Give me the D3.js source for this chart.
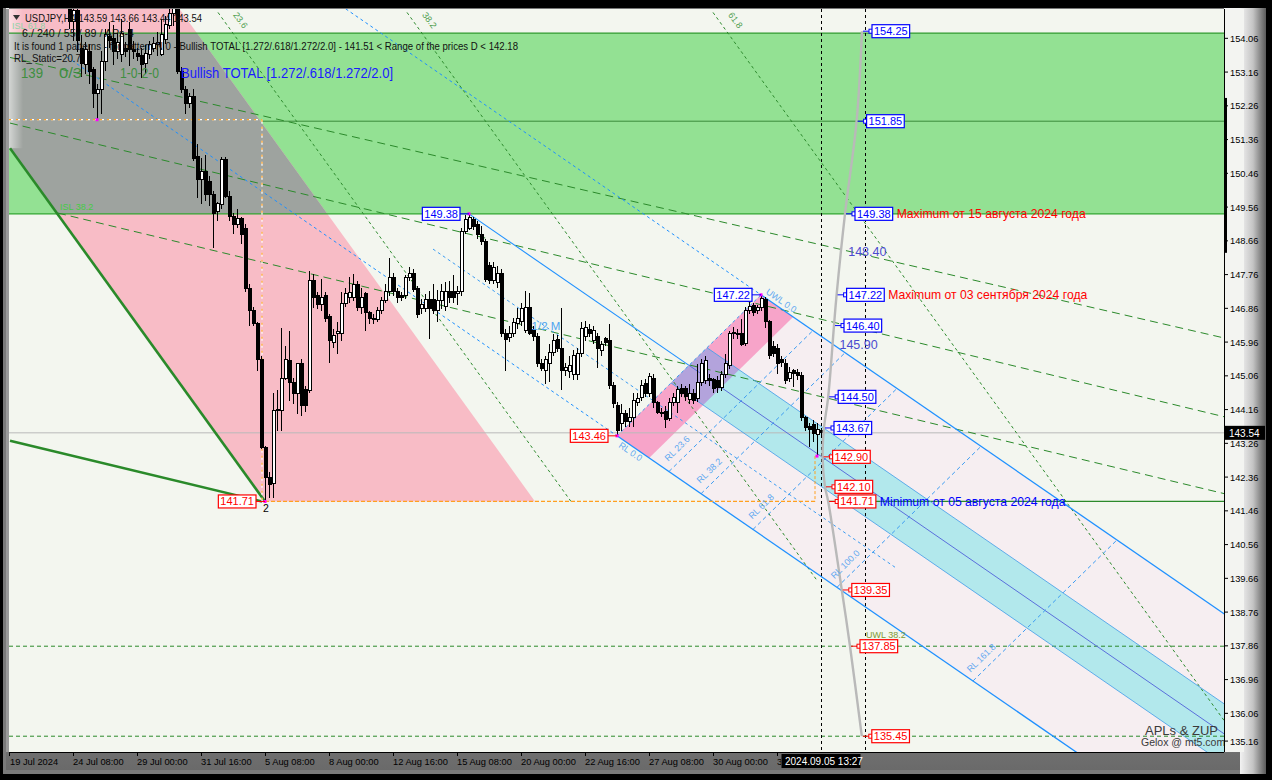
<!DOCTYPE html>
<html>
<head>
<meta charset="utf-8">
<script src="https://cdn.jsdelivr.net/npm/d3@7/dist/d3.min.js"></script>
<style>
  body { margin: 0; background: #000; }
  svg { display: block; }
  text { font-family: "Liberation Sans", Arial, sans-serif; }
</style>
</head>
<body>
<script>
// ---- data ----
const firstBar = 15; // bars 0..14 (19-23 Jul) sit above the visible range
const ohlc = [
  [155.2,155.5,154.3,154.5],[154.5,155.1,154.0,154.8],[154.8,155.0,153.7,154.0],[153.79,154.16,153.04,153.39],
  [153.35,153.95,153.1,153.75],[153.71,153.9,152.83,153.18],[153.23,153.3,152.19,152.59],[152.58,152.85,151.89,152.7],
  [152.7,153.71,152.05,153.44],[153.44,154.32,153.18,154.16],[154.1,154.5,153.8,154.0],[154.05,154.42,153.36,153.71],
  [153.7,154.2,153.5,153.95],[153.63,154.58,153.44,154.19],[153.79,153.95,153.55,153.71],[154.29,154.5,153.31,153.76],
  [153.76,154.0,153.5,153.71],[153.65,153.8,153.45,153.57],[153.6,153.79,152.99,153.36],[153.39,153.89,153.1,153.65],
  [153.63,154.0,153.5,153.89],[153.8,154.1,153.7,153.92],[153.9,154.24,153.6,153.95],[153.63,154.58,153.58,154.16],
  [154.02,154.65,153.9,154.42],[154.4,155.0,154.3,154.72],[154.72,155.2,154.4,154.9],[154.9,155.2,153.1,153.18],
  [153.18,153.3,152.6,152.7],[152.7,152.8,152.05,152.32],[152.32,152.6,152.2,152.51],[152.51,152.7,150.8,150.86],
  [150.9,151.23,149.8,150.3],[150.3,150.86,149.65,150.52],[150.52,150.96,149.72,149.9],[150.25,150.4,149.6,149.9],
  [149.9,150.0,148.47,149.4],[149.45,149.7,149.2,149.65],[149.63,150.9,149.5,150.83],[150.83,150.9,149.8,149.85],
  [149.85,150.0,149.19,149.32],[149.32,149.4,148.84,149.1],[149.1,149.5,149.0,149.25],[149.25,149.3,148.58,148.84],
  [149.0,149.1,147.3,147.4],[147.4,147.5,146.4,146.8],[146.8,146.9,146.4,146.45],[146.45,146.5,145.2,145.5],
  [145.5,145.6,143.1,143.15],[143.15,143.2,141.71,142.35],[142.35,142.5,141.8,142.15],[142.2,144.59,141.8,144.13],
  [144.13,144.67,143.6,144.15],[144.13,146.34,143.6,145.0],[145.0,145.85,144.95,145.5],[145.46,146.26,144.4,144.88],
  [144.88,145.0,144.32,144.58],[144.58,145.4,144.05,145.38],[145.38,145.5,144.0,144.26],[144.7,144.8,144.1,144.26],
  [144.67,147.86,144.6,147.59],[147.59,147.78,146.87,147.14],[147.19,147.3,146.85,146.97],[146.95,147.64,146.8,147.14],
  [147.19,147.3,146.5,146.6],[146.65,146.7,145.41,145.99],[145.96,146.3,145.8,146.13],[146.18,146.5,145.65,146.23],
  [146.2,147.3,146.0,147.0],[147.0,147.4,146.9,147.25],[147.15,147.7,147.0,147.27],[147.15,147.78,147.05,147.5],
  [147.5,147.6,146.8,146.87],[146.87,147.4,146.7,147.14],[147.25,147.3,146.26,146.74],[146.74,146.8,146.45,146.58],
  [146.58,146.7,146.45,146.55],[146.55,146.9,146.5,146.79],[146.79,147.15,146.7,147.06],[147.06,147.5,147.0,147.32],
  [147.32,148.2,147.2,147.67],[147.67,147.8,147.2,147.32],[147.32,147.4,147.0,147.14],[147.2,147.3,147.05,147.15],
  [147.2,147.75,147.1,147.67],[147.67,147.95,147.6,147.8],[147.8,147.9,147.3,147.37],[147.4,147.45,146.6,146.7],
  [146.85,147.1,146.7,146.95],[146.85,147.25,146.75,147.1],[147.1,147.32,146.04,146.85],[147.1,147.5,146.7,146.79],
  [146.8,147.35,146.5,147.06],[147.06,147.5,146.85,147.32],[146.9,147.55,146.8,147.32],[147.3,147.6,147.0,147.15],
  [147.3,147.75,147.0,147.15],[147.25,147.45,146.95,147.32],[147.32,149.0,147.2,148.92],[148.92,149.34,148.85,149.24],
  [149.0,149.38,148.95,149.27],[149.24,149.3,148.95,149.05],[149.1,149.2,148.7,148.84],[148.84,149.05,148.55,148.65],
  [148.65,148.7,147.55,147.64],[148.0,148.1,147.5,147.6],[147.6,148.1,147.5,147.95],[147.55,148.0,147.4,147.8],
  [147.78,147.9,146.1,146.18],[146.18,146.3,145.2,146.04],[146.07,146.4,145.95,146.2],[146.18,146.6,146.1,146.47],
  [146.45,146.87,146.3,146.6],[146.5,147.0,146.4,146.85],[146.26,147.32,146.2,146.87],[146.87,147.26,146.15,146.2],
  [146.3,146.4,146.0,146.1],[146.1,146.2,145.3,145.38],[145.4,145.5,145.2,145.25],[145.2,145.6,144.85,145.5],
  [145.38,145.9,144.9,145.68],[145.68,146.18,145.6,145.99],[146.04,146.15,145.7,145.8],[145.8,146.87,144.67,145.2],
  [145.2,145.4,145.05,145.28],[145.18,145.6,145.0,145.33],[145.1,145.75,144.95,145.6],[145.1,145.8,144.95,145.65],
  [145.65,146.5,145.55,146.31],[146.1,146.53,146.0,146.34],[146.3,146.45,146.1,146.2],[145.99,146.4,145.9,146.26],
  [146.1,146.2,145.28,145.8],[145.73,146.0,145.6,145.9],[146.05,146.1,145.85,145.95],[146.0,146.45,144.7,144.8],
  [144.8,144.9,144.2,144.32],[144.26,144.35,143.46,143.6],[143.8,144.3,143.6,144.05],[144.05,144.15,143.7,143.84],
  [143.85,144.2,143.7,143.95],[143.95,144.59,143.7,144.4],[144.35,144.6,144.25,144.45],[144.47,144.95,144.4,144.8],
  [144.85,144.98,144.5,144.6],[144.6,145.14,144.5,145.05],[145.0,145.1,144.2,144.34],[144.34,144.4,144.05,144.08],
  [144.05,144.2,143.95,144.08],[144.1,144.25,143.68,143.9],[143.93,144.47,143.85,144.34],[144.34,144.6,144.25,144.47],
  [144.34,144.8,144.08,144.7],[144.72,144.85,144.5,144.6],[144.72,144.8,144.4,144.52],[144.42,144.85,144.3,144.6],
  [144.6,144.7,144.3,144.4],[144.45,145.38,144.35,144.88],[144.88,145.5,144.8,145.38],[144.93,145.6,144.85,145.46],
  [145.0,145.1,144.8,144.93],[144.95,145.0,144.6,144.72],[144.93,145.05,144.6,144.75],[144.75,145.2,144.65,145.1],
  [145.1,145.65,145.0,145.4],[145.33,146.26,145.25,146.2],[146.18,146.35,146.05,146.22],[146.15,146.3,146.05,146.2],
  [146.2,146.58,145.85,145.9],[145.93,146.9,145.85,146.8],[146.8,147.06,146.7,146.9],[146.93,147.0,146.65,146.74],
  [146.8,146.95,146.7,146.87],[146.87,147.22,146.8,147.12],[147.1,147.15,146.34,146.5],[146.5,146.55,145.5,145.6],
  [145.85,146.0,145.55,145.65],[145.8,145.9,145.12,145.38],[145.5,145.6,145.3,145.42],[145.4,145.5,144.85,144.93],
  [145.0,145.3,144.9,145.15],[145.2,145.25,144.75,145.12],[145.15,145.25,144.95,145.07],[145.07,145.15,143.85,143.94],
  [143.94,144.0,143.6,143.68],[143.7,143.8,143.15,143.62],[143.75,143.87,143.3,143.52],[143.5,143.8,142.92,143.62],
  [143.59,143.66,143.44,143.54]
];
const dateBars = [0, 16, 32, 48, 64, 80, 96, 112, 128, 144, 160, 176, 192];
const dateLabels = ['19 Jul 2024', '24 Jul 08:00', '29 Jul 00:00', '31 Jul 16:00', '5 Aug 08:00', '8 Aug 00:00',
  '12 Aug 16:00', '15 Aug 08:00', '20 Aug 00:00', '22 Aug 16:00', '27 Aug 08:00', '30 Aug 00:00', '3 Sep 16:00'];
const priceTicks = [154.06, 153.16, 152.26, 151.36, 150.46, 149.56, 148.66, 147.76, 146.86, 145.96, 145.06,
  144.16, 143.26, 142.36, 141.46, 140.56, 139.66, 138.76, 137.86, 136.96, 136.06, 135.16];
const lastPrice = 143.54;
const lastBar = 203, futureBar = 214;
const zoneTop = 154.2, zoneMid = 151.85, zoneBottom = 149.38;
const julyLow = 151.89, swingLow = 141.71, barLow = 142.92;
const pivotA = [115, 149.38], pivotB = [152, 143.46], pivotC = [188, 147.22];
const rlLevels = [0.236, 0.382, 0.618, 1.0, 1.618];
const rlNames = ['RL 23.6', 'RL 38.2', 'RL 61.8', 'RL 100.0', 'RL 161.8'];
const projBars = [213.25, 211.9, 209, 206.9, 206.25, 204.8, 203.75, 203.4, 204, 204.8, 208.2, 210.25, 213.2];
const projPrices = [154.25, 151.85, 149.38, 147.22, 146.40, 144.50, 143.67, 142.90, 142.10, 141.71, 139.35, 137.85, 135.45];
const projUpCount = 7; // first seven targets are blue, rest red
const swingDots = [[22, 151.89], [64, 141.71], [115, 149.38], [152, 143.46], [188, 147.22], [202, 142.92]];
const leftTags = [[115, 149.38, 'b'], [188, 147.22, 'b'], [152, 143.46, 'r'], [64, 141.71, 'r']];
const islEdge = [[0.25, 151.13], [64, 141.71]];
const islRightBar = 131.5;
const baseLine = [[0.25, 143.33], [63.25, 141.71]];
const trendLines = [
  [[0.25, 153.55], [303.75, 146.07]],
  [[0.25, 151.80], [303.75, 143.97]],
  [[12.25, 149.40], [303.75, 141.92]]
];
const fanTop = 154.75;
const fanBars = [52.25, 99.5, 176];
const fanEnds = [141.71, 139.6, 130];
const fanNames = ['23.6', '38.2', '61.8'];
const dashLevels = [137.85, 135.45];
const rangeBar = [152.47, 148.34];
const notes = [
  [149.38, 'Maximum от 15 августа 2024 года', '#ff0000'],
  [147.22, 'Maximum от 03 сентября 2024 года', '#ff0000'],
  [141.71, 'Minimum от 05 августа 2024 года', '#0000ff']
];
const plainLevels = [148.40, 145.90];

// ---- setup ----
const W = 1272, H = 780;
const L = 9, R = 1224, T = 9, B = 752;
const svg = d3.select('body').append('svg').attr('width', W).attr('height', H);
const defs = svg.append('defs');

const x = d3.scaleLinear().domain([0, 100]).range([9, 409]);
const y = d3.scaleLinear().domain([135.029, 154.842]).range([B, T]);
const line = d3.line().x(d => x(d[0])).y(d => y(d[1]));
const poly = pts => line(pts) + 'Z';

defs.append('clipPath').attr('id', 'plot').append('rect')
  .attr('x', L).attr('y', T).attr('width', R - L).attr('height', B - T);
defs.append('clipPath').attr('id', 'zone').append('rect')
  .attr('x', L).attr('y', y(zoneTop)).attr('width', R - L).attr('height', y(zoneBottom) - y(zoneTop));
defs.append('clipPath').attr('id', 'dateclip').append('rect')
  .attr('x', 0).attr('y', B).attr('width', x(193)).attr('height', 20);

const gr = defs.append('linearGradient').attr('id', 'bevelR').attr('x1', 0).attr('x2', 1);
gr.append('stop').attr('offset', 0).attr('stop-color', '#f2f2f2');
gr.append('stop').attr('offset', 0.5).attr('stop-color', '#c4c4c4');
gr.append('stop').attr('offset', 1).attr('stop-color', '#5a5a5a');
const gb = defs.append('linearGradient').attr('id', 'bevelB').attr('x1', 0).attr('x2', 0).attr('y1', 0).attr('y2', 1);
gb.append('stop').attr('offset', 0).attr('stop-color', '#f4f4f4');
gb.append('stop').attr('offset', 0.55).attr('stop-color', '#c8c8c8');
gb.append('stop').attr('offset', 1).attr('stop-color', '#6a6a6a');
const gl = defs.append('linearGradient').attr('id', 'edgeL').attr('x1', 0).attr('x2', 1);
gl.append('stop').attr('offset', 0).attr('stop-color', '#ffffff').attr('stop-opacity', 0.55);
gl.append('stop').attr('offset', 1).attr('stop-color', '#ffffff').attr('stop-opacity', 0);

// window frame
svg.append('rect').attr('width', W).attr('height', H).attr('fill', '#000');
svg.append('rect').attr('x', 3).attr('y', 8).attr('width', 1262).attr('height', 766).attr('fill', '#7a7a7a');
svg.append('rect').attr('x', 6).attr('y', 8).attr('width', 1256).attr('height', 762).attr('fill', 'url(#bevelB)');
svg.append('rect').attr('x', 1240).attr('y', 8).attr('width', 26).attr('height', 766).attr('fill', 'url(#bevelR)');
svg.append('rect').attr('x', R).attr('y', T).attr('width', 20).attr('height', B - T).attr('fill', '#f3f4f1');
svg.append('rect').attr('x', 6).attr('y', T).attr('width', 3).attr('height', B - T).attr('fill', '#9a9a9a');

const plot = svg.append('g').attr('clip-path', 'url(#plot)');
plot.append('rect').attr('x', L).attr('y', T).attr('width', R - L).attr('height', B - T).attr('fill', '#f3f6ef');

// pitchfork geometry (bar, price space)
const add = (p, v, k) => [p[0] + v[0] * k, p[1] + v[1] * k];
const mid = [(pivotB[0] + pivotC[0]) / 2, (pivotB[1] + pivotC[1]) / 2];
const V = [mid[0] - pivotA[0], mid[1] - pivotA[1]];
const D = [pivotC[0] - pivotB[0], pivotC[1] - pivotB[1]];
function intersect(p, r, q, s) {
  const den = r[0] * s[1] - r[1] * s[0];
  const t = ((q[0] - p[0]) * s[1] - (q[1] - p[1]) * s[0]) / den;
  return [p[0] + t * r[0], p[1] + t * r[1]];
}
const cyUp = intersect([pivotA[0], pivotA[1] + 0.8], V, pivotB, D);
const cyDn = intersect([pivotA[0], pivotA[1] - 0.8], V, pivotB, D);
const bandK = 0.146;

plot.append('path').attr('d', poly([pivotB, pivotC, add(pivotC, V, 5), add(pivotB, V, 5)])).attr('fill', '#f6eef1');

// green target zone
plot.append('rect').attr('x', L).attr('y', y(zoneTop)).attr('width', R - L)
  .attr('height', y(zoneBottom) - y(zoneTop)).attr('fill', '#93e193');

// ISL pink band and its overlap with the zone
const islSlope = (islEdge[1][1] - islEdge[0][1]) / (islEdge[1][0] - islEdge[0][0]);
const topP = 156;
const islPoly = [
  [islEdge[1][0], swingLow], [islRightBar, swingLow],
  [islRightBar + (topP - swingLow) / islSlope, topP], [islEdge[1][0] + (topP - swingLow) / islSlope, topP]
];
plot.append('path').attr('d', poly(islPoly)).attr('fill', '#f8bcc6');
plot.append('g').attr('clip-path', 'url(#zone)')
  .append('path').attr('d', poly(islPoly)).attr('fill', '#9ea39f');
plot.append('rect').attr('x', L).attr('y', T).attr('width', 14).attr('height', y(islEdge[0][1]) - T).attr('fill', 'url(#edgeL)');

// RL band, cyan median zone, overlap
plot.append('path').attr('d', poly([pivotB, pivotC, add(pivotC, V, bandK), add(pivotB, V, bandK)])).attr('fill', '#f7a4c9');
plot.append('path').attr('d', poly([cyUp, add(cyUp, V, 5), add(cyDn, V, 5), cyDn])).attr('fill', '#b2e8ec');
plot.append('path').attr('d', poly([cyUp, add(cyUp, V, bandK), add(cyDn, V, bandK), cyDn])).attr('fill', '#b3a3dc');

// horizontal levels
const hline = (p, x1, x2, color, dash, w) => plot.append('line')
  .attr('x1', x(x1)).attr('x2', x(x2)).attr('y1', y(p)).attr('y2', y(p))
  .attr('stroke', color).attr('stroke-width', w || 1).attr('stroke-dasharray', dash || null);
hline(lastPrice, 0, 310, '#b9b9b9');
dashLevels.forEach(p => hline(p, 0, 310, '#2b8a2b', '4,3'));
hline(zoneTop, 0, 310, '#2f9a2f', null, 1.3);
hline(zoneBottom, 0, 310, '#2fa52f', null, 1.3);
hline(zoneMid, 63.25, 310, '#3a8a3a');
hline(swingLow, 205, 310, '#2b8a2b', null, 1.3);

// green sloping lines
trendLines.forEach(t => plot.append('path').attr('d', line(t)).attr('fill', 'none')
  .attr('stroke', '#2b8a2b').attr('stroke-dasharray', '8,5'));
fanBars.forEach((b, k) => {
  const end = [b + (fanEnds[k] - fanTop) / islSlope, fanEnds[k]];
  plot.append('path').attr('d', line([[b, fanTop], end])).attr('fill', 'none')
    .attr('stroke', '#2e8b2e').attr('stroke-dasharray', '3,3');
  const px = x(b) + 20, py = 22;
  plot.append('text').attr('x', px).attr('y', py).attr('font-size', 9).attr('fill', '#4c9c4c')
    .attr('text-anchor', 'middle').attr('transform', `rotate(54,${px},${py})`).text(fanNames[k]);
});

// pitchfork lines
const blue = '#1e90ff';
const seg = (a, b, color, dash, w) => plot.append('path').attr('d', line([a, b])).attr('fill', 'none')
  .attr('stroke', color).attr('stroke-width', w || 1).attr('stroke-dasharray', dash || null);
seg(add(pivotC, V, -2), pivotC, blue, '3,3');
seg(pivotC, add(pivotC, V, 4), blue, null, 1.3);
seg(add(pivotB, V, -2.5), pivotB, blue, '3,3');
seg(pivotB, add(pivotB, V, 4), blue, null, 1.3);
seg(pivotA, mid, blue, null, 1.1);
seg(mid, add(pivotA, V, 5), '#5a6fdc', null, 1);
seg(cyUp, add(cyUp, V, 5), '#3f9ae8', null, 0.8);
seg(cyDn, add(cyDn, V, 5), '#3f9ae8', null, 0.8);
const half = [(pivotA[0] + pivotB[0]) / 2, (pivotA[1] + pivotB[1]) / 2];
seg(add(half, V, -0.5), add(half, V, 1.6), '#3c9cf2', '3,3');
seg(pivotB, pivotC, '#3c9cf2', '3,3');
rlLevels.forEach(k => seg(add(pivotB, V, k), add(pivotC, V, k), '#3c9cf2', '4,3'));

// thick ISL edges
plot.append('path').attr('d', line(islEdge)).attr('stroke', '#2a8a2a').attr('stroke-width', 2.6).attr('fill', 'none');
plot.append('path').attr('d', line(baseLine)).attr('stroke', '#2a8a2a').attr('stroke-width', 2.6).attr('fill', 'none');

// dashed helper lines around the August low
hline(julyLow, 0, 63.25, '#ffffff', '4,3', 1.3);
hline(julyLow, 0, 63.25, '#ffa020', '2,5', 1.3);
plot.append('line').attr('x1', x(63.25)).attr('x2', x(63.25)).attr('y1', y(julyLow)).attr('y2', y(swingLow))
  .attr('stroke', '#fff').attr('stroke-dasharray', '4,3').attr('stroke-width', 1.2);
plot.append('line').attr('x1', x(63.25)).attr('x2', x(63.25)).attr('y1', y(julyLow)).attr('y2', y(swingLow))
  .attr('stroke', '#ffa020').attr('stroke-dasharray', '2,5').attr('stroke-width', 1.2);
hline(swingLow, 64, 201.5, '#ffa020', '4,2', 1.2);
plot.append('line').attr('x1', x(201.5)).attr('x2', x(201.5)).attr('y1', y(barLow)).attr('y2', y(swingLow))
  .attr('stroke', '#ffa020').attr('stroke-dasharray', '3,2');

// current / future time markers
[lastBar, futureBar].forEach(b => plot.append('line').attr('x1', x(b) + 0.5).attr('x2', x(b) + 0.5)
  .attr('y1', T).attr('y2', B).attr('stroke', '#000').attr('stroke-dasharray', '3,3'));

// candles
const bars = plot.append('g').attr('shape-rendering', 'crispEdges');
bars.selectAll('line').data(ohlc).enter().append('line')
  .attr('x1', (d, k) => x(firstBar + k) + 0.5).attr('x2', (d, k) => x(firstBar + k) + 0.5)
  .attr('y1', d => y(d[1])).attr('y2', d => y(d[2])).attr('stroke', '#000');
bars.selectAll('rect').data(ohlc).enter().append('rect')
  .attr('x', (d, k) => x(firstBar + k) - 1)
  .attr('y', d => y(Math.max(d[0], d[3])))
  .attr('width', 3)
  .attr('height', d => Math.max(1, y(Math.min(d[0], d[3])) - y(Math.max(d[0], d[3]))))
  .attr('fill', d => d[3] >= d[0] ? '#fff' : '#000')
  .attr('stroke', '#000').attr('stroke-width', 1);

// projection curve
const proj = projBars.map((b, k) => [b, projPrices[k]]);
plot.append('path').attr('d', d3.line().x(d => x(d[0])).y(d => y(d[1])).curve(d3.curveCatmullRom)(proj))
  .attr('fill', 'none').attr('stroke', '#b9b9b9').attr('stroke-width', 2.4);

// swing dots
plot.selectAll('.dot').data(swingDots).enter().append('rect')
  .attr('x', d => x(d[0]) - 1.5).attr('y', d => y(d[1]) - 1.5).attr('width', 3).attr('height', 3).attr('fill', '#ff00ff');

// labels on the pitchfork
const labelAlong = (p, dir, text, along, perp, color, size) => {
  const dx = x(p[0] + dir[0]) - x(p[0]), dy = y(p[1] + dir[1]) - y(p[1]);
  const n = Math.hypot(dx, dy), ux = dx / n, uy = dy / n;
  const px = x(p[0]) + ux * along + uy * perp, py = y(p[1]) + uy * along - ux * perp;
  const ang = Math.atan2(uy, ux) * 180 / Math.PI;
  svg.append('text').attr('x', px).attr('y', py).attr('font-size', size || 9).attr('fill', color)
    .attr('text-anchor', 'middle').attr('dominant-baseline', 'middle')
    .attr('transform', `rotate(${ang},${px},${py})`).text(text);
};
rlLevels.forEach((k, n) => labelAlong(add(pivotB, V, k), D, rlNames[n], 22, 10, '#5fa8f0'));
labelAlong(pivotB, V, 'RL 0.0', 20, -6, '#5fa8f0');
labelAlong(pivotC, V, 'UWL 0.0', 20, 6, '#5fa8f0');
svg.append('text').attr('x', x(half[0]) + 3).attr('y', y(half[1]) + 5).attr('font-size', 11.5)
  .attr('fill', '#4ea4f0').attr('text-anchor', 'middle').text('1/2 M');
svg.append('text').attr('x', x(futureBar) + 1).attr('y', y(137.85) - 8).attr('font-size', 9)
  .attr('fill', '#7f9a35').text('UWL 38.2');

// price tags helper
function tag(px, p, text, color, anchorRight) {
  const g = svg.append('g');
  const t = g.append('text').attr('y', y(p) + 4).attr('font-size', 11).attr('fill', color).text(text);
  const w = t.node().getComputedTextLength() + 4;
  const bx = anchorRight ? px - w : px;
  t.attr('x', bx + 2);
  g.insert('rect', 'text').attr('x', bx).attr('y', y(p) - 6.5).attr('width', w).attr('height', 13)
    .attr('fill', '#fff').attr('stroke', color).attr('stroke-width', 1.2);
  return bx + w;
}
leftTags.forEach(d => {
  const color = d[2] === 'b' ? '#0000ff' : '#ff0000';
  svg.append('line').attr('x1', x(d[0]) - 9).attr('x2', x(d[0])).attr('y1', y(d[1])).attr('y2', y(d[1]))
    .attr('stroke', color);
  tag(x(d[0]) - 9, d[1], d[1].toFixed(2), color, true);
});
const rightEnds = {};
proj.forEach((d, k) => {
  const color = k < projUpCount ? '#0000ff' : '#ff0000';
  const bx = x(d[0]) + 10;
  svg.append('line').attr('x1', x(d[0]) + 1).attr('x2', bx).attr('y1', y(d[1])).attr('y2', y(d[1])).attr('stroke', color);
  svg.append('rect').attr('x', bx - 3).attr('y', y(d[1]) - 2).attr('width', 4).attr('height', 4)
    .attr('fill', '#fff').attr('stroke', color);
  rightEnds[d[1].toFixed(2)] = tag(bx, d[1], d[1].toFixed(2), color, false);
});
notes.forEach(n => svg.append('text').attr('x', rightEnds[n[0].toFixed(2)] + 4).attr('y', y(n[0]) + 4.5)
  .attr('font-size', 12.2).attr('fill', n[2]).text(n[1]));
const curveX = p => {
  for (let k = 0; k < projUpCount; k++) {
    const a = proj[k], b = proj[k + 1];
    if (p <= a[1] && p >= b[1]) return x(a[0] + (b[0] - a[0]) * (a[1] - p) / (a[1] - b[1]));
  }
  return x(proj[projUpCount][0]);
};
plainLevels.forEach(p => svg.append('text').attr('x', curveX(p) + 7).attr('y', y(p) + 5)
  .attr('font-size', 12.5).attr('fill', '#4b4bd0').text(p.toFixed(2)));

svg.append('text').attr('x', x(64) - 2).attr('y', y(swingLow) + 11).attr('font-size', 10.5).text('2');
svg.append('text').attr('x', 60).attr('y', y(zoneBottom) - 4).attr('font-size', 9).attr('fill', '#44cc44').text('ISL 38.2');

// header texts
const head = (tx, ty, s, size, color, len) => svg.append('text').attr('x', tx).attr('y', ty)
  .attr('font-size', size).attr('fill', color).attr('textLength', len).attr('lengthAdjust', 'spacingAndGlyphs').text(s);
svg.append('text').attr('x', 12).attr('y', 29).attr('font-size', 9).attr('fill', '#8fd4a8').text('ISL 61.8');
svg.append('path').attr('d', 'M13,15 L20,15 L16.5,20 Z').attr('fill', '#333');
head(25, 22, 'USDJPY,H4  143.59 143.66 143.44 143.54', 10.5, '#111', 177);
head(22, 36.5, '6./ 240 / 55 / 89 / APs-4', 10.5, '#111', 112);
head(14, 49.5, 'It is found 1 patterns  -  for pattern N 0 - Bullish TOTAL [1.272/.618/1.272/2.0] - 141.51 < Range of the prices D < 142.18', 10.5, '#111', 504);
head(14, 62, 'RL_Static=20.7', 10.5, '#111', 67);
head(21, 78, '139', 14, '#3f8f3f', 22);
head(59, 78, '0/3', 14, '#3f8f3f', 23);
head(120, 78, '1-0-2-0', 14, '#3f8f3f', 39);
head(181, 78, 'Bullish TOTAL [1.272/.618/1.272/2.0]', 14, '#1a1aff', 212);

// watermark
svg.append('text').attr('x', 1145).attr('y', 735).attr('font-family', '"Liberation Serif", serif')
  .attr('font-size', 13).attr('fill', '#3a3a3a').text('APLs & ZUP');
svg.append('text').attr('x', 1141).attr('y', 746).attr('font-family', '"Liberation Serif", serif')
  .attr('font-size', 10.5).attr('fill', '#3a3a3a').text('Gelox @ mt5.com');

// axes
svg.append('line').attr('x1', R + 0.5).attr('x2', R + 0.5).attr('y1', T).attr('y2', B).attr('stroke', '#000');
svg.append('line').attr('x1', L).attr('x2', R).attr('y1', B + 0.5).attr('y2', B + 0.5).attr('stroke', '#000');
svg.append('line').attr('x1', L).attr('x2', R).attr('y1', T - 0.5).attr('y2', T - 0.5).attr('stroke', '#777');
svg.append('rect').attr('x', R).attr('y', y(rangeBar[0])).attr('width', 3)
  .attr('height', y(rangeBar[1]) - y(rangeBar[0])).attr('fill', '#000');

const yAxis = svg.append('g');
priceTicks.forEach((p, k) => {
  const ty = k === priceTicks.length - 1 ? y(p) - 6 : y(p);
  yAxis.append('line').attr('x1', R).attr('x2', R + 4).attr('y1', ty).attr('y2', ty).attr('stroke', '#000');
  yAxis.append('text').attr('x', R + 6).attr('y', ty + 3.5).attr('font-size', 9.3).attr('fill', '#000').text(p.toFixed(2));
});
yAxis.append('rect').attr('x', R + 1).attr('y', y(lastPrice) - 7).attr('width', 40).attr('height', 14).attr('fill', '#000');
yAxis.append('text').attr('x', R + 5).attr('y', y(lastPrice) + 4).attr('font-size', 10).attr('fill', '#fff').text(lastPrice.toFixed(2));

// time axis: last label runs under the cursor-time box, so clip it there
const xAxis = svg.append('g');
dateBars.forEach((b, k) => {
  xAxis.append('line').attr('x1', x(b) + 0.5).attr('x2', x(b) + 0.5).attr('y1', B).attr('y2', B + 4).attr('stroke', '#000');
  xAxis.append('text').attr('x', k === 0 ? x(b) + 1 : x(b)).attr('y', 765).attr('font-size', 9.3)
    .attr('fill', '#000').attr('clip-path', 'url(#dateclip)').text(dateLabels[k]);
});
xAxis.append('rect').attr('x', x(193) + 0.5).attr('y', B + 2).attr('width', 79).attr('height', 14).attr('fill', '#000');
xAxis.append('text').attr('x', x(193) + 4).attr('y', 765).attr('font-size', 10).attr('fill', '#fff').text('2024.09.05 13:27');
</script>
</body>
</html>
